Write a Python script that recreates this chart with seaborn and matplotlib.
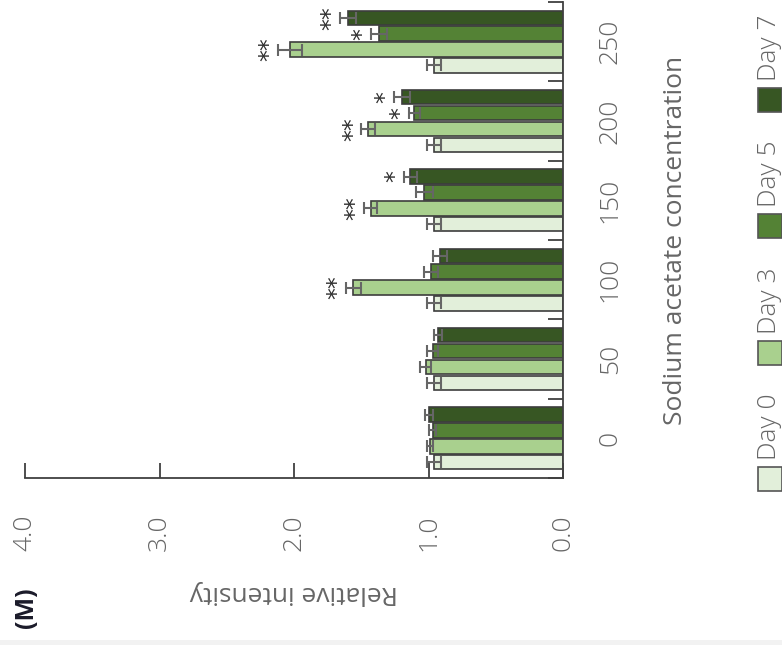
import numpy as np
import pandas as pd
import matplotlib
matplotlib.use("Agg")
import matplotlib.pyplot as plt
from matplotlib.patches import Rectangle
from matplotlib.ticker import FixedLocator
import seaborn as sns

# Sodium acetate concentration groups and sampling days
conc = ["0", "50", "100", "150", "200", "250"]
days = ["Day 0", "Day 3", "Day 5", "Day 7"]

# Mean relative intensity per concentration, one list per day
day0 = [0.96, 0.96, 0.96, 0.96, 0.96, 0.96]
day3 = [0.99, 1.02, 1.56, 1.43, 1.45, 2.03]
day5 = [0.97, 0.97, 0.98, 1.03, 1.105, 1.37]
day7 = [0.995, 0.93, 0.915, 1.135, 1.20, 1.60]

# Standard deviations
day0_err = [0.05, 0.05, 0.05, 0.05, 0.05, 0.05]
day3_err = [0.02, 0.04, 0.055, 0.05, 0.05, 0.09]
day5_err = [0.025, 0.04, 0.05, 0.06, 0.04, 0.06]
day7_err = [0.03, 0.03, 0.05, 0.05, 0.06, 0.06]

# Significance marks
day0_sig = ["", "", "", "", "", ""]
day3_sig = ["", "", "**", "**", "**", "**"]
day5_sig = ["", "", "", "", "*", "*"]
day7_sig = ["", "", "", "*", "*", "**"]

value_ticks = [0, 1, 2, 3, 4]
value_ticklabels = ["0.0", "1.0", "2.0", "3.0", "4.0"]

colors = ["#e2efda", "#a9d08e", "#548235", "#375623"]

means = [day0, day3, day5, day7]
errs = [day0_err, day3_err, day5_err, day7_err]
sigs = [day0_sig, day3_sig, day5_sig, day7_sig]

df = pd.DataFrame({
    "conc": conc * len(days),
    "day": np.repeat(days, len(conc)),
    "value": np.concatenate(means),
})

sns.set_theme(style="white")
plt.rcParams["font.family"] = ["Open Sans", "DejaVu Sans"]
plt.rcParams["font.weight"] = "light"

TXT = "#666666"
AX = "#404040"
FS = 19

W, H = 782, 645
fig = plt.figure(figsize=(W / 100, H / 100), dpi=100)
fig.patch.set_facecolor("white")

left, right, top, bottom = 25, 563, 2, 478
ax = fig.add_axes([left / W, 1 - bottom / H, (right - left) / W, (bottom - top) / H])

sns.barplot(
    data=df, x="value", y="conc", hue="day", order=conc, hue_order=days,
    palette=dict(zip(days, colors)), orient="h", width=0.8, gap=0.08,
    edgecolor="#3d3d3d", linewidth=1.2, errorbar=None, legend=False,
    saturation=1, ax=ax,
)

# Error bars and significance marks placed on the drawn bars
for container, m, e, s in zip(ax.containers, means, errs, sigs):
    for bar in container:
        yc = bar.get_y() + bar.get_height() / 2
        idx = int(round(yc))
        ax.errorbar(m[idx], yc, xerr=e[idx], fmt="none", ecolor="#666666",
                    elinewidth=1.5, capsize=4.5, capthick=1.5, zorder=5)
        if s[idx]:
            ax.annotate(s[idx], xy=(m[idx] + e[idx], yc), xytext=(-6, 0),
                        textcoords="offset points", rotation=90,
                        ha="center", va="center", fontsize=17,
                        fontweight="normal", color="#2e2e2e",
                        family="DejaVu Sans")

ax.set_xlim(4, 0)
ax.set_ylim(-0.5, len(conc) - 0.5)

for side in ["top", "left"]:
    ax.spines[side].set_visible(False)
for side in ["bottom", "right"]:
    ax.spines[side].set_color(AX)
    ax.spines[side].set_linewidth(1.3)

ax.set_xticks(value_ticks)
ax.set_xticklabels(value_ticklabels)
ax.tick_params(axis="x", direction="in", length=11, width=1.3, color=AX,
               pad=26, labelsize=FS, labelcolor=TXT, labelrotation=90,
               bottom=True)

ax.yaxis.tick_right()
ax.set_yticks(range(len(conc)))
ax.set_yticklabels(conc, rotation=90, ha="center", va="center")
ax.yaxis.set_minor_locator(FixedLocator(np.arange(-0.5, len(conc), 1.0)))
ax.tick_params(axis="y", which="major", length=0, pad=34, labelsize=FS,
               labelcolor=TXT, right=True, left=False)
ax.tick_params(axis="y", which="minor", direction="in", length=11, width=1.3,
               color=AX, right=True, left=False)

ax.set_xlabel("Relative intensity", rotation=180, fontsize=FS, color=TXT,
              ha="center", va="center")
ax.xaxis.set_label_coords(0.5, -(592 - bottom) / (bottom - top))
ax.yaxis.set_label_position("right")
ax.set_ylabel("Sodium acetate concentration", rotation=90, fontsize=FS,
              color=TXT, ha="center", va="center")
ax.yaxis.set_label_coords((676 - left) / (right - left), 0.5)

# Panel letter
fig.text(27 / W, 1 - 608 / H, "(M)", rotation=90, ha="center", va="center",
         fontsize=18, fontweight="bold", color="#1b1b2a")

# Legend laid out along the right edge
patch_centers = [479, 353, 226, 100]
size = 24
for day, col, yc in zip(days, colors, patch_centers):
    fig.patches.append(Rectangle(((770 - size / 2) / W, 1 - (yc + size / 2) / H),
                                 size / W, size / H, transform=fig.transFigure,
                                 facecolor=col, edgecolor="#555555", lw=1.2))
    fig.text(770 / W, 1 - (yc - size / 2 - 7) / H, day, rotation=90,
             ha="center", va="bottom", fontsize=FS, color=TXT)

# Light strip along the lower edge
fig.patches.append(Rectangle((0, 0), 1, 5 / H, transform=fig.transFigure,
                             facecolor="#f2f2f2", edgecolor="none"))

fig.savefig("out.png", dpi=100, facecolor="white")
